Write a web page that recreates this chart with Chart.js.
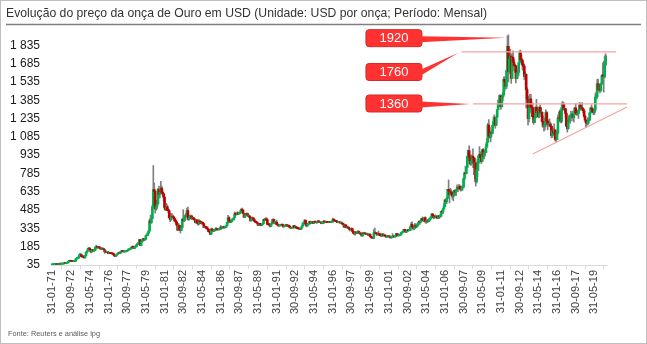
<!DOCTYPE html>
<html>
<head>
<meta charset="utf-8">
<script src="https://cdn.jsdelivr.net/npm/chart.js@4.4.1/dist/chart.umd.min.js"></script>
<style>
  html, body { margin: 0; padding: 0; background: #fff; }
  #wrap { width: 647px; height: 344px; }
</style>
</head>
<body>
<div id="wrap"><canvas id="goldChart" width="647" height="344"></canvas></div>
<script>
const chartTitle = "Evolução do preço da onça de Ouro em USD (Unidade: USD por onça; Período: Mensal)";
const sourceNote = "Fonte: Reuters e análise lpg";

// one label every 20 months, first month = Jan 1971
const xTickLabels = [
  "31-01-71", "30-09-72", "31-05-74", "31-01-76", "30-09-77", "31-05-79",
  "31-01-81", "30-09-82", "31-05-84", "31-01-86", "30-09-87", "31-05-89",
  "31-01-91", "30-09-92", "31-05-94", "31-01-96", "30-09-97", "31-05-99",
  "31-01-01", "30-09-02", "31-05-04", "31-01-06", "30-09-07", "31-05-09",
  "31-01-11", "30-09-12", "31-05-14", "31-01-16", "30-09-17", "31-05-19",
];
const yTickValues = [35, 185, 335, 485, 635, 785, 935, 1085, 1235, 1385, 1535, 1685, 1835];

// monthly candles, Jan 1971 .. Jun 2020 (open = previous close)
const firstOpen = 37.4;
const closes = [
  38.0, 38.8, 38.9, 39.5, 40.5, 40.1, 41.0, 42.7, 42.0, 42.5, 42.9, 43.6, // 1971
  48.0, 48.8, 48.3, 49.0, 54.6, 65.0, 65.7, 67.0, 65.5, 64.9, 62.9, 63.9, // 1972
  66, 84, 90, 90.5, 102, 120, 120, 106, 103, 100, 94, 112, // 1973
  139, 150, 168, 172, 163, 143, 154, 155, 152, 158, 181, 186.5, // 1974
  176, 181, 178, 167, 167, 166, 167, 160, 142, 143, 139, 140, // 1975
  128, 132, 129, 128, 126, 124, 112, 105, 116, 123, 130, 135, // 1976
  132, 143, 149, 147, 143, 143, 145, 146, 154, 161, 161, 165, // 1977
  176, 182, 181, 170, 184, 184, 201, 209, 218, 243, 194, 226, // 1978
  233, 252, 240, 246, 275, 277, 296, 315, 397, 382, 415, 512, // 1979
  653, 637, 494, 518, 535, 653, 614, 631, 666, 629, 619, 590, // 1980
  506, 489, 513, 482, 480, 422, 406, 425, 428, 427, 414, 400, // 1981
  387, 362, 320, 361, 326, 317, 342, 411, 397, 423, 436, 448, // 1982
  481, 408, 414, 429, 437, 416, 422, 414, 405, 383, 405, 380, // 1983
  370, 394, 388, 375, 384, 373, 342, 348, 343, 333, 329, 309, // 1984
  306, 287, 330, 321, 314, 317, 327, 333, 326, 325, 325, 327, // 1985
  345, 338, 344, 345, 343, 346, 357, 384, 423, 401, 383, 391, // 1986
  405, 405, 421, 452, 451, 447, 462, 453, 460, 468, 492, 484, // 1987
  458, 426, 457, 449, 455, 436, 437, 427, 397, 412, 422, 410, // 1988
  394, 387, 383, 377, 361, 373, 368, 359, 367, 375, 408, 401, // 1989
  415, 407, 368, 367, 363, 352, 372, 387, 408, 380, 384, 386, // 1990
  366, 363, 355, 357, 360, 368, 362, 347, 354, 357, 366, 353, // 1991
  354, 353, 341, 336, 337, 343, 357, 340, 349, 339, 334, 333, // 1992
  330, 327, 337, 354, 378, 378, 402, 372, 355, 369, 370, 391, // 1993
  378, 381, 389, 376, 387, 386, 384, 386, 394, 389, 383, 383, // 1994
  375, 376, 392, 389, 385, 387, 383, 382, 384, 383, 387, 387, // 1995
  405, 400, 396, 392, 391, 382, 385, 386, 379, 379, 371, 369, // 1996
  345, 364, 349, 340, 345, 334, 326, 325, 332, 311, 296, 290, // 1997
  304, 297, 301, 310, 293, 296, 289, 273, 294, 292, 294, 288, // 1998
  287, 288, 280, 286, 268, 261, 255, 254, 299, 299, 292, 290, // 1999
  283, 293, 279, 275, 272, 289, 277, 277, 273, 264, 269, 272, // 2000
  266, 267, 258, 263, 267, 270, 265, 273, 293, 279, 275, 277, // 2001
  282, 297, 303, 308, 326, 318, 304, 312, 323, 316, 319, 347, // 2002
  368, 347, 334, 336, 361, 346, 354, 375, 388, 386, 398, 416, // 2003
  403, 396, 423, 388, 394, 395, 391, 408, 415, 429, 453, 438, // 2004
  422, 435, 427, 435, 417, 437, 429, 433, 473, 470, 495, 513, // 2005
  568, 556, 582, 654, 643, 613, 633, 623, 599, 604, 646, 632, // 2006
  650, 665, 662, 679, 659, 650, 666, 672, 743, 789, 783, 834, // 2007
  923, 972, 916, 864, 885, 926, 913, 833, 871, 718, 815, 870, // 2008
  928, 942, 916, 883, 980, 927, 955, 955, 1001, 1040, 1182, 1096, // 2009
  1081, 1117, 1113, 1180, 1213, 1244, 1181, 1246, 1307, 1357, 1384, 1421, // 2010
  1332, 1409, 1430, 1556, 1536, 1500, 1628, 1826, 1620, 1722, 1746, 1564, // 2011
  1737, 1697, 1669, 1664, 1561, 1604, 1614, 1692, 1772, 1719, 1711, 1675, // 2012
  1663, 1580, 1596, 1472, 1393, 1234, 1322, 1396, 1327, 1323, 1250, 1202, // 2013
  1240, 1326, 1284, 1295, 1250, 1327, 1282, 1286, 1210, 1171, 1182, 1199, // 2014
  1283, 1212, 1183, 1183, 1190, 1172, 1095, 1134, 1115, 1142, 1065, 1061, // 2015
  1118, 1238, 1235, 1293, 1215, 1322, 1351, 1309, 1316, 1277, 1173, 1152, // 2016
  1211, 1249, 1249, 1268, 1268, 1242, 1269, 1322, 1280, 1271, 1275, 1303, // 2017
  1345, 1318, 1325, 1315, 1299, 1253, 1224, 1201, 1192, 1215, 1222, 1282, // 2018
  1321, 1313, 1292, 1284, 1305, 1409, 1413, 1520, 1472, 1511, 1464, 1517, // 2019
  1587, 1585, 1577, 1694, 1730, 1741, // 2020
];
const highs = [
  38.1, 38.9, 39.0, 39.6, 40.8, 40.6, 41.2, 43.0, 42.7, 42.8, 43.1, 43.8,
  48.7, 49.5, 49.2, 49.6, 57.6, 65.5, 70.0, 70.5, 67.0, 65.8, 65.0, 64.9,
  66.3, 90, 91, 93, 104, 126, 127, 121, 106, 101, 100, 114,
  140, 152, 172, 179, 178, 163, 155, 159, 157, 159, 185, 197.5,
  186, 182, 182, 178, 170, 170, 168, 167, 156, 145, 143, 141,
  141, 133, 134, 130, 129, 126, 124, 112, 117, 124, 132, 136,
  136, 143, 150, 150, 148, 144, 145, 146, 154, 163, 163, 166,
  177, 184, 190, 182, 184, 187, 201, 213, 220, 245, 244, 227,
  239, 253, 254, 246, 279, 281, 298, 316, 412, 444, 416, 524,
  850, 707, 644, 560, 560, 663, 681, 637, 720, 682, 650, 625,
  599, 507, 540, 527, 497, 487, 424, 456, 457, 446, 430, 418,
  406, 388, 360, 375, 360, 332, 355, 413, 488, 442, 443, 458,
  501, 510, 428, 440, 446, 440, 431, 426, 416, 404, 407, 399,
  381, 407, 397, 390, 390, 386, 372, 357, 349, 349, 349, 330,
  311, 306, 337, 336, 325, 320, 328, 342, 334, 333, 332, 330,
  359, 350, 348, 348, 347, 347, 358, 385, 442, 431, 402, 395,
  411, 410, 422, 470, 462, 454, 472, 463, 467, 481, 494, 502,
  484, 458, 457, 458, 462, 460, 443, 437, 425, 413, 428, 423,
  412, 396, 394, 390, 378, 373, 377, 375, 368, 377, 409, 416,
  421, 422, 406, 372, 372, 363, 374, 408, 413, 411, 389, 386,
  403, 368, 367, 360, 363, 370, 368, 363, 356, 361, 369, 367,
  356, 356, 355, 341, 339, 344, 359, 357, 351, 347, 339, 337,
  333, 331, 338, 357, 379, 383, 407, 392, 372, 373, 378, 392,
  395, 384, 392, 390, 388, 395, 387, 387, 398, 396, 390, 384,
  384, 379, 396, 392, 390, 390, 390, 388, 387, 386, 389, 390,
  418, 417, 402, 396, 395, 391, 388, 389, 388, 384, 383, 374,
  366, 366, 363, 348, 354, 344, 335, 326, 340, 337, 314, 300,
  309, 307, 302, 316, 312, 299, 297, 289, 299, 303, 300, 297,
  292, 291, 289, 291, 290, 268, 263, 259, 326, 338, 301, 293,
  292, 313, 296, 285, 279, 294, 291, 280, 279, 275, 272, 275,
  273, 268, 269, 265, 292, 272, 271, 279, 294, 294, 281, 281,
  288, 302, 304, 310, 327, 329, 320, 316, 326, 326, 327, 350,
  384, 389, 353, 341, 377, 366, 366, 378, 392, 396, 398, 417,
  429, 417, 427, 429, 397, 397, 409, 416, 419, 432, 456, 456,
  438, 437, 446, 437, 435, 442, 430, 447, 473, 479, 498, 538,
  569, 575, 586, 654, 732, 654, 663, 650, 636, 611, 649, 650,
  652, 691, 671, 694, 691, 673, 683, 675, 744, 795, 845, 835,
  929, 976, 1011, 929, 936, 937, 986, 918, 911, 903, 833, 883,
  934, 1005, 963, 917, 980, 989, 961, 965, 1025, 1070, 1196, 1226,
  1162, 1127, 1138, 1181, 1249, 1265, 1211, 1249, 1308, 1388, 1424, 1431,
  1424, 1413, 1447, 1575, 1577, 1554, 1632, 1912, 1920, 1764, 1803, 1764,
  1764, 1790, 1719, 1678, 1671, 1640, 1628, 1692, 1790, 1796, 1754, 1725,
  1694, 1682, 1617, 1600, 1487, 1417, 1348, 1433, 1434, 1361, 1362, 1267,
  1280, 1332, 1392, 1331, 1315, 1332, 1345, 1322, 1289, 1255, 1205, 1239,
  1307, 1293, 1224, 1224, 1232, 1205, 1174, 1170, 1157, 1191, 1142, 1088,
  1128, 1263, 1283, 1306, 1303, 1362, 1375, 1367, 1352, 1317, 1306, 1180,
  1220, 1264, 1262, 1295, 1270, 1296, 1274, 1326, 1357, 1306, 1299, 1309,
  1366, 1361, 1356, 1365, 1317, 1309, 1266, 1218, 1214, 1243, 1237, 1284,
  1326, 1347, 1324, 1310, 1306, 1439, 1452, 1555, 1557, 1518, 1516, 1525,
  1590, 1689, 1704, 1747, 1765, 1750,
];
const lows = [
  37.3, 37.9, 38.5, 38.8, 39.4, 39.9, 40.0, 40.9, 41.7, 41.9, 42.2, 42.8,
  43.6, 47.8, 47.9, 48.2, 48.8, 54.0, 60.5, 63.7, 64.0, 63.4, 61.8, 62.6,
  63.5, 65.2, 82, 86, 89.8, 101, 116, 101, 95, 96, 90, 93,
  112, 133, 149, 160, 158, 134, 136, 148, 147, 146, 158, 180,
  172, 173, 174, 165, 163, 163, 162, 160, 130, 141, 137, 136,
  126, 129, 128, 127, 125, 122, 110, 103, 103, 116, 123, 130,
  130, 131, 143, 146, 142, 140, 141, 143, 146, 154, 157, 159,
  165, 172, 178, 168, 170, 181, 183, 200, 206, 217, 194, 193,
  218, 233, 237, 237, 245, 274, 277, 293, 311, 376, 375, 412,
  509, 615, 460, 485, 500, 545, 610, 584, 628, 616, 597, 560,
  486, 480, 489, 479, 465, 420, 390, 400, 428, 426, 394, 391,
  370, 360, 316, 322, 317, 297, 324, 339, 397, 390, 396, 431,
  440, 405, 400, 413, 426, 407, 405, 409, 400, 379, 375, 377,
  360, 370, 383, 373, 368, 371, 342, 340, 337, 330, 325, 307,
  301, 284, 287, 312, 311, 307, 314, 326, 317, 322, 321, 321,
  326, 334, 334, 335, 335, 339, 341, 358, 378, 400, 381, 383,
  390, 401, 405, 422, 444, 443, 448, 451, 455, 456, 467, 479,
  456, 424, 426, 446, 449, 434, 427, 425, 394, 397, 411, 408,
  392, 384, 381, 377, 358, 362, 363, 355, 357, 365, 375, 398,
  401, 406, 367, 363, 361, 346, 352, 372, 384, 372, 373, 373,
  365, 358, 352, 353, 354, 359, 358, 346, 347, 356, 357, 353,
  350, 350, 340, 335, 334, 336, 343, 338, 339, 338, 331, 331,
  327, 326, 325, 338, 354, 363, 376, 356, 347, 355, 367, 370,
  373, 378, 381, 373, 377, 383, 382, 376, 385, 388, 382, 376,
  372, 373, 375, 389, 383, 385, 382, 381, 382, 381, 382, 385,
  387, 398, 395, 390, 389, 382, 380, 384, 378, 377, 370, 367,
  344, 341, 346, 337, 340, 334, 313, 320, 320, 306, 294, 283,
  279, 292, 291, 298, 291, 285, 286, 272, 273, 290, 291, 286,
  285, 283, 278, 278, 267, 257, 252, 252, 254, 293, 290, 277,
  280, 282, 277, 273, 270, 271, 276, 269, 269, 263, 263, 266,
  263, 256, 255, 255, 262, 264, 265, 264, 269, 276, 271, 271,
  276, 282, 290, 300, 306, 313, 303, 302, 312, 311, 316, 317,
  343, 347, 322, 325, 337, 342, 344, 355, 368, 366, 378, 395,
  398, 393, 394, 386, 375, 382, 386, 390, 398, 410, 422, 432,
  413, 418, 424, 422, 414, 418, 417, 427, 432, 461, 456, 492,
  515, 539, 538, 580, 647, 543, 607, 616, 574, 560, 600, 611,
  603, 650, 636, 663, 653, 640, 647, 648, 672, 727, 774, 781,
  837, 890, 901, 854, 851, 865, 901, 774, 741, 681, 706, 759,
  808, 916, 880, 866, 880, 915, 904, 933, 990, 1026, 1046, 1075,
  1075, 1044, 1087, 1114, 1165, 1179, 1155, 1178, 1242, 1315, 1330, 1357,
  1309, 1327, 1381, 1417, 1463, 1478, 1479, 1603, 1535, 1606, 1670, 1523,
  1564, 1689, 1627, 1614, 1526, 1563, 1564, 1588, 1689, 1692, 1673, 1636,
  1626, 1555, 1565, 1321, 1338, 1180, 1207, 1280, 1292, 1251, 1227, 1187,
  1202, 1240, 1283, 1268, 1240, 1241, 1281, 1273, 1207, 1161, 1131, 1142,
  1167, 1198, 1142, 1175, 1170, 1163, 1077, 1080, 1099, 1113, 1052, 1046,
  1061, 1107, 1208, 1212, 1199, 1200, 1310, 1302, 1302, 1241, 1171, 1124,
  1146, 1208, 1195, 1243, 1215, 1236, 1205, 1267, 1274, 1261, 1263, 1236,
  1302, 1307, 1303, 1302, 1282, 1246, 1211, 1160, 1180, 1182, 1196, 1221,
  1276, 1310, 1281, 1266, 1266, 1296, 1400, 1400, 1459, 1459, 1445, 1456,
  1517, 1548, 1451, 1567, 1670, 1671,
];

// annotations drawn on top, in data units (month index, price)
const levelLines = [
  { from: [438, 1780], to: [603, 1780] },
  { from: [450, 1355], to: [615, 1355] },
  { from: [514, 944], to: [615, 1329] },
];
const callouts = [
  { text: "1920", box: [365.5, 1893], tip: [485.5, 1897] },
  { text: "1760", box: [365.5, 1616], tip: [434, 1772] },
  { text: "1360", box: [365.5, 1358], tip: [447, 1354] },
];

// label "dd-mm-yy" -> month index from Jan 1971
function monthIndex(label) {
  const parts = label.split("-");
  const yy = parseInt(parts[2], 10);
  const year = yy >= 70 ? 1900 + yy : 2000 + yy;
  return (year - 1971) * 12 + parseInt(parts[1], 10) - 1;
}
const xTickMonths = xTickLabels.map(monthIndex);

const opens = closes.map((c, i) => (i === 0 ? firstOpen : closes[i - 1]));
const bodyData = closes.map((c, i) => ({ x: i, y: [opens[i], c] }));
const wickData = closes.map((c, i) => ({ x: i, y: [lows[i], highs[i]] }));
const bodyColors = closes.map((c, i) => (c >= opens[i] ? "#00b050" : "#c00000"));

function spaced(v) {
  return String(v).replace(/\B(?=(\d{3})+(?!\d))/g, " ");
}

function fitText(ctx, text, x, y, width) {
  const w = ctx.measureText(text).width;
  ctx.save();
  ctx.translate(x, y);
  ctx.scale(Math.min(1, width / w), 1);
  ctx.fillText(text, 0, 0);
  ctx.restore();
}

const decorPlugin = {
  id: "decor",
  beforeDraw(chart) {
    const ctx = chart.ctx;
    ctx.save();
    ctx.fillStyle = "#ffffff";
    ctx.fillRect(0, 0, chart.width, chart.height);
    ctx.restore();
  },
  afterDatasetsDraw(chart) {
    const ctx = chart.ctx;
    const xs = chart.scales.x;
    const ys = chart.scales.y;
    ctx.save();
    ctx.strokeStyle = "#f4a3a3";
    ctx.lineWidth = 1.3;
    levelLines.forEach((l) => {
      ctx.beginPath();
      ctx.moveTo(xs.getPixelForValue(l.from[0]), ys.getPixelForValue(l.from[1]));
      ctx.lineTo(xs.getPixelForValue(l.to[0]), ys.getPixelForValue(l.to[1]));
      ctx.stroke();
    });
    ctx.restore();
  },
  afterDraw(chart) {
    const ctx = chart.ctx;
    const xs = chart.scales.x;
    const ys = chart.scales.y;
    ctx.save();

    // callouts
    callouts.forEach((c) => {
      const cx = xs.getPixelForValue(c.box[0]);
      const cy = ys.getPixelForValue(c.box[1]);
      const w = 56, h = 17;
      const left = cx - w / 2, top = cy - h / 2, right = cx + w / 2;
      const tx = xs.getPixelForValue(c.tip[0]);
      const ty = ys.getPixelForValue(c.tip[1]);
      ctx.fillStyle = "#ff3131";
      ctx.strokeStyle = "#d42a2a";
      ctx.lineWidth = 1;
      ctx.beginPath();
      ctx.roundRect(left, top, w, h, 3);
      ctx.fill();
      ctx.stroke();
      ctx.beginPath();
      ctx.moveTo(right - 2, cy - 2);
      ctx.lineTo(tx, ty);
      ctx.lineTo(right - 2, cy + 4);
      ctx.closePath();
      ctx.fill();
      ctx.fillStyle = "#ffffff";
      ctx.font = "13px 'Liberation Sans', Arial, sans-serif";
      ctx.textAlign = "center";
      ctx.textBaseline = "middle";
      ctx.fillText(c.text, cx, cy + 0.5);
    });

    // title + rule
    ctx.textAlign = "left";
    ctx.textBaseline = "alphabetic";
    ctx.fillStyle = "#333333";
    ctx.font = "13px 'Liberation Sans', Arial, sans-serif";
    fitText(ctx, chartTitle, 6, 17, 481);
    ctx.strokeStyle = "#808080";
    ctx.lineWidth = 1.5;
    ctx.beginPath();
    ctx.moveTo(6, 24.5);
    ctx.lineTo(641, 24.5);
    ctx.stroke();

    // source
    ctx.fillStyle = "#595959";
    ctx.font = "8px 'Liberation Sans', Arial, sans-serif";
    fitText(ctx, sourceNote, 8, 336, 92);

    // frame
    ctx.strokeStyle = "#bfbfbf";
    ctx.lineWidth = 1;
    ctx.strokeRect(0.5, 0.5, chart.width - 1, chart.height - 1);
    ctx.restore();
  },
};

new Chart(document.getElementById("goldChart"), {
  type: "bar",
  data: {
    datasets: [
      {
        label: "Corpo",
        data: bodyData,
        backgroundColor: bodyColors,
        barThickness: 2,
        minBarLength: 1,
        grouped: false,
        order: 0,
      },
      {
        label: "Sombra",
        data: wickData,
        backgroundColor: "#7f7f7f",
        barThickness: 1,
        grouped: false,
        order: 1,
      },
    ],
  },
  options: {
    responsive: false,
    animation: false,
    layout: {
      padding: { left: 0, right: 40, top: 30, bottom: 24 },
    },
    plugins: {
      legend: { display: false },
      tooltip: { enabled: false },
    },
    scales: {
      x: {
        type: "linear",
        offset: false,
        min: -1.5,
        max: 593.5,
        afterBuildTicks: (scale) => {
          scale.ticks = xTickMonths.map((v) => ({ value: v }));
        },
        afterFit: (scale) => {
          scale.height = 55;
        },
        grid: {
          display: true,
          drawOnChartArea: false,
          drawTicks: true,
          tickLength: 4,
          color: "#d9d9d9",
        },
        border: { color: "#d9d9d9", width: 1 },
        ticks: {
          autoSkip: false,
          minRotation: 90,
          maxRotation: 90,
          padding: 1,
          color: "#404040",
          font: { family: "'Liberation Sans', Arial, sans-serif", size: 11 },
          callback: (value, index) => xTickLabels[index],
        },
      },
      y: {
        min: 35,
        max: 1960,
        afterBuildTicks: (scale) => {
          scale.ticks = yTickValues.map((v) => ({ value: v }));
        },
        afterFit: (scale) => {
          scale.width = 51;
        },
        grid: { display: false, drawTicks: false },
        border: { display: false },
        ticks: {
          padding: 11,
          color: "#1a1a1a",
          font: { family: "'Liberation Sans', Arial, sans-serif", size: 12 },
          callback: (value) => spaced(value),
        },
      },
    },
  },
  plugins: [decorPlugin],
});
</script>
</body>
</html>
